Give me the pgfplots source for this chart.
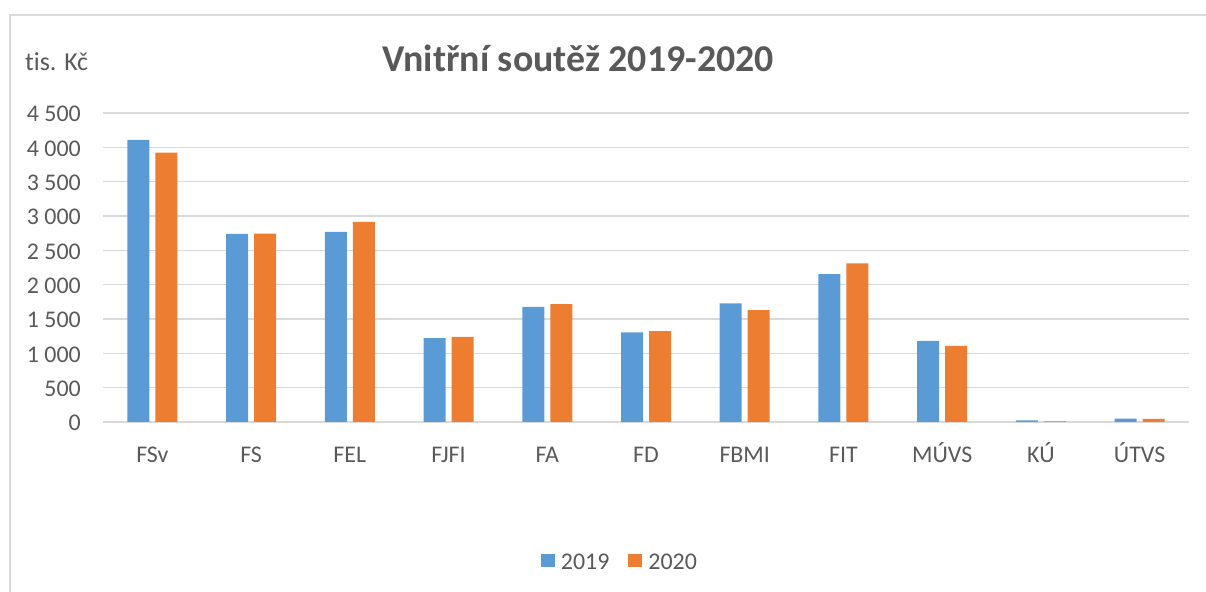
\documentclass[border=0pt]{standalone}
\usepackage{pgfplots}
\pgfplotsset{compat=1.18}
\usepackage{fontspec}
\setmainfont{Carlito}[Ligatures=NoCommon]
\definecolor{cblue}{HTML}{5B9BD5}
\definecolor{corange}{HTML}{ED7D31}
\definecolor{cgrid}{HTML}{D9D9D9}
\definecolor{ctext}{HTML}{595959}
\definecolor{cborder}{HTML}{D9D9D9}
\begin{document}
\begin{tikzpicture}
\path[use as bounding box] (0bp,0bp) rectangle (1206bp,592bp);
\draw[cborder, line width=1.5bp] (10bp,-5bp) -- (10bp,577bp) -- (1215bp,577bp);
\node[anchor=base, text=ctext, font=\fontsize{38}{46}\selectfont\bfseries, inner sep=0pt] at (578bp,520.3bp) {Vnitřní soutěž 2019-2020};
\node[anchor=base west, text=ctext, font=\fontsize{26}{31}\selectfont, inner sep=0pt] at (25bp,521bp) {tis. Kč};
\begin{axis}[
  at={(103bp,170bp)}, anchor=south west,
  scale only axis, width=1086bp, height=309bp,
  ymin=0, ymax=4500, xmin=-0.5, xmax=10.5,
  ybar=6bp, bar width=22bp,
  axis line style={draw=none},
  ymajorgrids, grid style={cgrid, line width=1.5bp},
  major tick length=0pt,
  ytick={0,500,...,4500},
  yticklabels={0,500,1 000,1 500,2 000,2 500,3 000,3 500,4 000,4 500},
  xtick={0,...,10},
  xticklabels={FSv,FS,FEL,FJFI,FA,FD,FBMI,FIT,MÚVS,KÚ,ÚTVS},
  ticklabel style={text=ctext, font=\fontsize{24}{29}\selectfont},
  yticklabel style={anchor=east, inner sep=0pt, xshift=-22bp, yshift=-1bp},
  xticklabel style={anchor=base, inner sep=0pt, yshift=-40bp},
  legend columns=2,
  legend style={draw=none, at={(0.476,-0.456)}, anchor=center, font=\fontsize{24}{29}\selectfont, text=ctext,
     /tikz/every even column/.append style={column sep=17bp},
     /tikz/every odd column/.append style={column sep=4bp}},
  legend image code/.code={\fill[#1, draw=none] (0bp,-4bp) rectangle (14bp,9bp);},
]
\addplot[fill=cblue, draw=none] coordinates {(0,4107) (1,2738) (2,2767) (3,1223) (4,1675) (5,1306) (6,1728) (7,2155) (8,1180) (9,25) (10,48)};
\addplot[fill=corange, draw=none] coordinates {(0,3922) (1,2742) (2,2913) (3,1238) (4,1718) (5,1325) (6,1631) (7,2311) (8,1107) (9,10) (10,45)};
\legend{2019,2020}
\end{axis}
\end{tikzpicture}
\end{document}
